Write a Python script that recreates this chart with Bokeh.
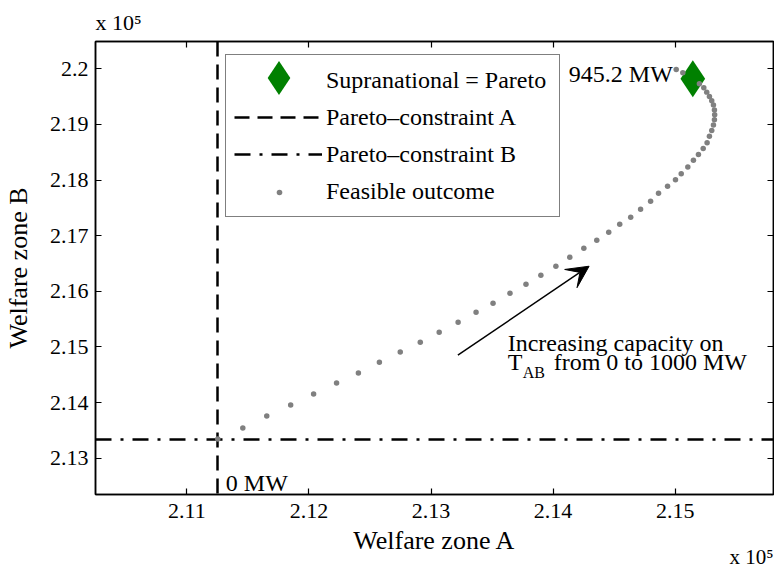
from bokeh.plotting import figure
from bokeh.models import (Range1d, LinearAxis, FixedTicker, Legend, LegendItem,
                          Label, Arrow, VeeHead, Title)
from bokeh.embed import file_html
from bokeh.resources import INLINE

# ---- data (welfare values in units of 10^5) ----
welfare_a = [2.11253, 2.11458, 2.11654, 2.11850, 2.12038, 2.12226, 2.12405, 2.12577,
             2.12748, 2.12912, 2.13067, 2.13222, 2.13369, 2.13508, 2.13647, 2.13778,
             2.13900, 2.14023, 2.14137, 2.14252, 2.14358, 2.14456, 2.14546, 2.14636,
             2.14717, 2.14799, 2.14864, 2.14938, 2.15003, 2.15050, 2.15104, 2.15150,
             2.15191, 2.15230, 2.15262, 2.15281, 2.15300, 2.15314, 2.15322, 2.15324,
             2.15322, 2.15314, 2.15300, 2.15281, 2.15259, 2.15235, 2.15199, 2.15063,
             2.15009]
welfare_b = [2.13345, 2.13542, 2.13758, 2.13955, 2.14153, 2.14350, 2.14530, 2.14727,
             2.14907, 2.15086, 2.15266, 2.15445, 2.15625, 2.15786, 2.15966, 2.16128,
             2.16289, 2.16451, 2.16612, 2.16774, 2.16917, 2.17061, 2.17205, 2.17330,
             2.17474, 2.17618, 2.17761, 2.17887, 2.18004, 2.18115, 2.18233, 2.18354,
             2.18461, 2.18569, 2.18672, 2.18785, 2.18892, 2.18987, 2.19084, 2.19174,
             2.19257, 2.19347, 2.19426, 2.19503, 2.19580, 2.19659, 2.19731, 2.19928,
             2.19987]
pareto_constraint_a = [2.11253]
pareto_constraint_b = [2.13345]
supranational_a = [2.15145]
supranational_b = [2.19821]
supranational_label = "945.2 MW"
start_label = "0 MW"
x_ticks = [2.11, 2.12, 2.13, 2.14, 2.15]
x_tick_labels = ["2.11", "2.12", "2.13", "2.14", "2.15"]
y_ticks = [2.13, 2.14, 2.15, 2.16, 2.17, 2.18, 2.19, 2.2]
y_tick_labels = ["2.13", "2.14", "2.15", "2.16", "2.17", "2.18", "2.19", "2.2"]
legend_labels = ["Supranational = Pareto", "Pareto\u2013constraint A",
                 "Pareto\u2013constraint B", "Feasible outcome"]
exponent_label = "x 10\u2075"

FONT = "Liberation Serif"

p = figure(width=774, height=569, output_backend="svg", toolbar_location=None,
           x_range=Range1d(2.10251, 2.15806), y_range=Range1d(2.12348, 2.20490),
           min_border_left=93, min_border_right=1, min_border_top=41, min_border_bottom=75,
           x_axis_label="Welfare zone A", y_axis_label="Welfare zone B")
p.grid.visible = False
p.outline_line_color = "black"
p.outline_line_width = 1.5
p.background_fill_color = "white"
p.border_fill_color = "white"


def style_axis(ax, ticks, labels, show):
    ax.ticker = FixedTicker(ticks=ticks)
    ax.major_label_overrides = dict(zip(ticks, labels))
    ax.major_tick_in = 6
    ax.major_tick_out = 0
    ax.minor_tick_in = 0
    ax.minor_tick_out = 0
    ax.axis_line_width = 1.5
    ax.axis_line_color = "black"
    ax.major_tick_line_width = 1.2
    ax.major_tick_line_color = "black"
    ax.major_label_text_font = FONT
    ax.major_label_text_color = "black" if show else None
    ax.major_label_text_font_size = "22px" if show else "0px"
    ax.axis_label_text_font = FONT
    ax.axis_label_text_font_size = "26px"
    ax.axis_label_text_font_style = "normal"
    ax.axis_label_text_color = "black"


style_axis(p.xaxis[0], x_ticks, x_tick_labels, True)
style_axis(p.yaxis[0], y_ticks, y_tick_labels, True)
p.xaxis[0].major_label_standoff = 9
p.xaxis[0].axis_label_standoff = 5
p.yaxis[0].major_label_standoff = 7
p.yaxis[0].axis_label_standoff = 14

top_ax = LinearAxis(major_label_standoff=0)
right_ax = LinearAxis(major_label_standoff=0)
style_axis(top_ax, x_ticks, x_tick_labels, False)
style_axis(right_ax, y_ticks, y_tick_labels, False)
p.add_layout(top_ax, "above")
p.add_layout(right_ax, "right")

# exponent markers (outside the frame, so as titles in the side panels)
p.title.text = exponent_label
p.title.align = "left"
p.title.vertical_align = "bottom"
p.title.standoff = 14
p.title.text_font = FONT
p.title.text_font_size = "22px"
p.title.text_font_style = "normal"
p.title.text_color = "black"
p.add_layout(Title(text=exponent_label, align="right", vertical_align="top", standoff=-25,
                   text_font=FONT, text_font_size="21px", text_font_style="normal",
                   text_color="black"), "below")

# ---- data renderers ----
con_a = p.vspan(x=pareto_constraint_a, line_color="black", line_width=2.5, line_dash="15 8")
con_b = p.hspan(y=pareto_constraint_b, line_color="black", line_width=2.5, line_dash="16 9 3 9")
opt = p.scatter(supranational_a, supranational_b, marker="diamond", size=37,
                fill_color="#008000", line_color=None)
feasible = p.scatter(welfare_a, welfare_b, marker="circle", size=5.5,
                     fill_color="#808080", line_color=None)
# invisible legend proxy (the visible legend dot is drawn by an overlay legend)
feasible_proxy = p.line(x=welfare_a[:1], y=welfare_b[:1], line_alpha=0)

legend = Legend(items=[LegendItem(label=legend_labels[0], renderers=[opt]),
                       LegendItem(label=legend_labels[1], renderers=[con_a]),
                       LegendItem(label=legend_labels[2], renderers=[con_b]),
                       LegendItem(label=legend_labels[3], renderers=[feasible_proxy])],
                location=(130, 277), glyph_width=88, glyph_height=34, spacing=3, padding=8,
                label_standoff=4, label_width=225, label_text_font=FONT,
                label_text_font_size="24px", label_text_color="black",
                border_line_color="black", border_line_width=1.5,
                background_fill_color="white", background_fill_alpha=1.0)
p.add_layout(legend)

legend_marker = Legend(items=[LegendItem(label="", renderers=[opt])],
                       location=(141, 374), glyph_width=85, glyph_height=85, padding=0,
                       label_standoff=0, label_width=0, label_text_font_size="1px",
                       border_line_color=None, background_fill_alpha=0.0)
p.add_layout(legend_marker)

legend_dot = Legend(items=[LegendItem(label="", renderers=[feasible])],
                    location=(177, 295), glyph_width=14, glyph_height=14, label_height=14,
                    padding=0, label_standoff=0, label_width=0, label_text_font_size="1px",
                    border_line_color=None, background_fill_alpha=0.0)
p.add_layout(legend_dot)

# ---- annotations ----
p.add_layout(Label(x=welfare_a[0], y=welfare_b[0], text=start_label, x_offset=8, y_offset=-44,
                   text_font=FONT, text_font_size="24px", text_baseline="alphabetic",
                   text_color="black"))
p.add_layout(Label(x=supranational_a[0], y=supranational_b[0], text=supranational_label,
                   x_offset=-20, y_offset=5, text_align="right", text_color="black",
                   text_font=FONT, text_font_size="24px", text_baseline="alphabetic"))

ax0, ay0 = 2.13628, 2.15068
p.add_layout(Label(x=ax0, y=ay0, text="Increasing capacity on", text_font=FONT,
                   text_font_size="24px", text_baseline="alphabetic", text_color="black"))
p.add_layout(Label(x=ax0, y=ay0, text="T", y_offset=-19, text_font=FONT,
                   text_font_size="24px", text_baseline="alphabetic", text_color="black"))
p.add_layout(Label(x=ax0, y=ay0, text="AB", x_offset=15, y_offset=-29, text_font=FONT,
                   text_font_size="16px", text_baseline="alphabetic", text_color="black"))
p.add_layout(Label(x=ax0, y=ay0, text="from 0 to 1000 MW", x_offset=46, y_offset=-19,
                   text_font=FONT, text_font_size="24px", text_baseline="alphabetic",
                   text_color="black"))

p.add_layout(Arrow(x_start=2.13220, y_start=2.14853, x_end=2.14295, y_end=2.16451,
                   line_width=1.5, line_color="black",
                   end=VeeHead(size=22, fill_color="black", line_color="black")))

open("out.html", "w").write(file_html(p, INLINE))
